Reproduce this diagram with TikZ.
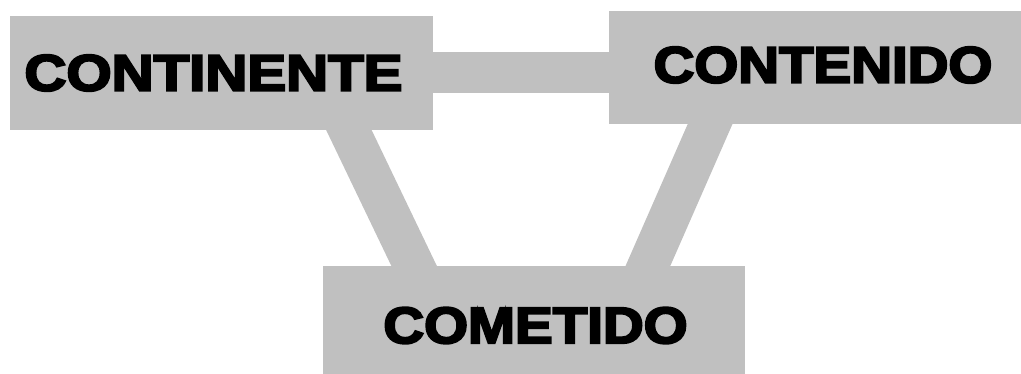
\documentclass[tikz,border=0pt]{standalone}
\usepackage{fontspec}
\newfontfamily\heavyfont[FakeBold=4]{Liberation Sans Bold}
\definecolor{bandgray}{RGB}{192,192,192}
\usetikzlibrary{positioning, calc, backgrounds}

\begin{document}
\begin{tikzpicture}[x=0.75pt, y=-0.75pt,
  wordbox/.style={fill=bandgray, draw=none, inner sep=0pt},
  word/.style={font=\heavyfont\fontsize{38.5}{40}\selectfont, text=black,
               inner sep=0pt, xscale=1.1},
  band/.style={draw=bandgray, line width=30.75pt, shorten <=-12pt, shorten >=-12pt},
]
  \useasboundingbox (0,0) rectangle (1021,374);

  \node[wordbox, minimum width=423*0.75pt, minimum height=114*0.75pt] (continente) at (221.5,73) {};
  \node[wordbox, minimum width=412*0.75pt, minimum height=113*0.75pt] (contenido) at (815,67.5) {};
  \node[wordbox, minimum width=422*0.75pt, minimum height=108*0.75pt] (cometido) at (534,320) {};

  \node[word, xscale=1.03] (continente-txt) at ($(continente.center)+(-8,0)$) {CONTINENTE};
  \node[word] (contenido-txt) at ($(contenido.center)+(8,-2.5)$) {CONTENIDO};
  \node[word] (cometido-txt) at ($(cometido.center)+(1.5,5.5)$) {COMETIDO};

  \begin{scope}[on background layer]
    \draw[band] (continente.east) -- (continente.east -| contenido.west);
    \draw[band] ([xshift=127.5*0.75pt]continente.south) -- ([xshift=-120*0.75pt]cometido.north);
    \draw[band] ([xshift=-105*0.75pt]contenido.south) -- ([xshift=114*0.75pt]cometido.north);
  \end{scope}
\end{tikzpicture}
\end{document}
